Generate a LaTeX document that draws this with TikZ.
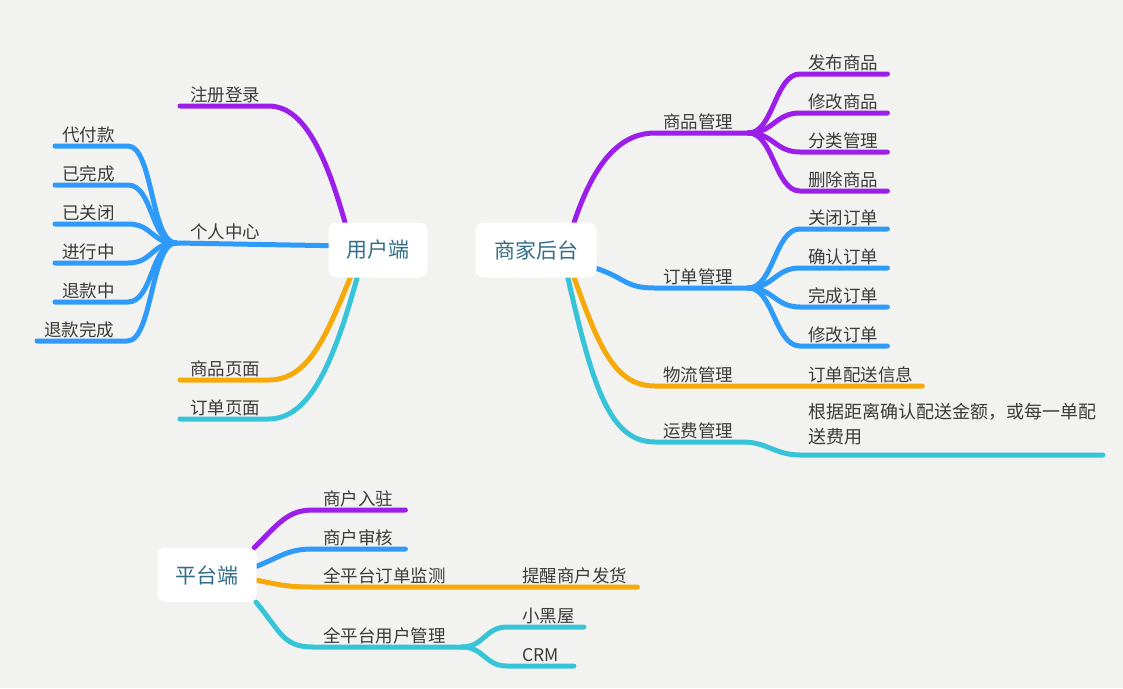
\documentclass[tikz,border=0pt]{standalone}
\usepackage{fontspec}
\setmainfont{Noto Sans CJK SC}
\definecolor{bgc}{HTML}{F2F3F1}
\definecolor{mmpurple}{HTML}{9B1FE9}
\definecolor{mmblue}{HTML}{2E9AFA}
\definecolor{mmorange}{HTML}{F6AA0A}
\definecolor{mmcyan}{HTML}{38C4D8}
\definecolor{roottext}{HTML}{336E88}
\definecolor{leaftext}{HTML}{3A3A3A}
\pgfdeclarelayer{bg}
\pgfsetlayers{bg,main}
\begin{document}
\begin{tikzpicture}[x=1pt, y=-1pt,
  root/.style={fill=white, rounded corners=8pt, minimum width=99pt, minimum height=55pt, inner sep=0pt, text=roottext, font=\fontsize{21}{21}\selectfont},
  leaf/.style={anchor=base west, inner sep=0pt, text=leaftext, font=\fontsize{17.5}{25}\selectfont},
  zi/.style={draw=mmpurple, line width=5pt, line cap=round},
  lan/.style={draw=mmblue, line width=5pt, line cap=round},
  cheng/.style={draw=mmorange, line width=5pt, line cap=round},
  qing/.style={draw=mmcyan, line width=5pt, line cap=round}]
\useasboundingbox (0,0) rectangle (1123,688);
\begin{pgfonlayer}{bg}
  \fill[bgc] (0,0) rectangle (1123,688);
\end{pgfonlayer}

% 中心主题
\node[root] (yh) at (378,250) {用户端};
\node[root, minimum width=121pt] (sj) at (536,250) {商家后台};
\node[root, minimum height=54pt] (pt) at (207,575) {平台端};

% 用户端分支
\node[leaf] (zc) at (190,101) {注册登录};
\node[leaf] (gr) at (190,238) {个人中心};
\node[leaf] (df) at (62,141) {代付款};
\node[leaf] (ywc) at (62,180) {已完成};
\node[leaf] (ygb) at (62,219) {已关闭};
\node[leaf] (jxz) at (62,258) {进行中};
\node[leaf] (tkz) at (62,297) {退款中};
\node[leaf] (tkwc) at (44,336) {退款完成};
\node[leaf] (spym) at (190,375) {商品页面};
\node[leaf] (ddym) at (190,414) {订单页面};

% 商家后台分支
\node[leaf] (spgl) at (663,128) {商品管理};
\node[leaf] (fb) at (808,69) {发布商品};
\node[leaf] (xg) at (808,108) {修改商品};
\node[leaf] (fl) at (808,147) {分类管理};
\node[leaf] (sc) at (808,186) {删除商品};
\node[leaf] (ddgl) at (663,283) {订单管理};
\node[leaf] (gb) at (808,224) {关闭订单};
\node[leaf] (qr) at (808,263) {确认订单};
\node[leaf] (wc) at (808,302) {完成订单};
\node[leaf] (xgdd) at (808,341) {修改订单};
\node[leaf] (wlgl) at (663,381) {物流管理};
\node[leaf] (psxx) at (808,381) {订单配送信息};
\node[leaf] (yfgl) at (663,437) {运费管理};
\node[leaf, text width=300pt, align=left, font=\fontsize{18}{25}\selectfont] (yfsm) at (808,418.5) {根据距离确认配送金额，或每一单配\\送费用};

% 平台端分支
\node[leaf] (rz) at (323,505) {商户入驻};
\node[leaf] (sh) at (323,544) {商户审核};
\node[leaf] (ddjc) at (323,582) {全平台订单监测};
\node[leaf] (tx) at (522,582) {提醒商户发货};
\node[leaf] (yhgl) at (323,642) {全平台用户管理};
\node[leaf] (xhw) at (522,622) {小黑屋};
\node[leaf] (crm) at (522,661) {CRM};

% 连线
\begin{pgfonlayer}{bg}
  \draw[zi] (yh.140) .. controls +(-20,-70) and +(35,0) .. ([shift={(8,5)}]zc.base east) -- ([shift={(-10,5)}]zc.base west);
  \draw[lan] (yh.175) -- ([shift={(-14,5)}]gr.base west) coordinate (grhub);
  \foreach \n in {df,ywc,ygb,jxz,tkz,tkwc}
    \draw[lan] (grhub) .. controls +(-25,0) and +(25,0) .. ([shift={(13,5)}]\n.base east) -- ([shift={(-7,5)}]\n.base west);
  \draw[cheng] (yh.225) .. controls +(-25,60) and +(40,0) .. ([shift={(8,5)}]spym.base east) -- ([shift={(-10,5)}]spym.base west);
  \draw[qing] (yh.233) .. controls +(-25,90) and +(40,0) .. ([shift={(8,5)}]ddym.base east) -- ([shift={(-10,5)}]ddym.base west);

  \draw[zi] (sj.36) .. controls +(20,-60) and +(-35,0) .. ([shift={(-8,5)}]spgl.base west) -- ([shift={(15,5)}]spgl.base east) coordinate (sphub);
  \foreach \n in {fb,xg,fl,sc}
    \draw[zi] (sphub) .. controls +(25,0) and +(-25,0) .. ([shift={(-8,5)}]\n.base west) -- ([shift={(9,5)}]\n.base east);
  \draw[lan] (sj.343) .. controls +(30,10) and +(-30,0) .. ([shift={(-8,5)}]ddgl.base west) -- ([shift={(15,5)}]ddgl.base east) coordinate (ddhub);
  \foreach \n in {gb,qr,wc,xgdd}
    \draw[lan] (ddhub) .. controls +(25,0) and +(-25,0) .. ([shift={(-8,5)}]\n.base west) -- ([shift={(9,5)}]\n.base east);
  \draw[cheng] (sj.324) .. controls +(25,70) and +(-40,0) .. ([shift={(-8,5)}]wlgl.base west) -- ([shift={(9,5)}]psxx.base east);
  \draw[qing] (sj.319) .. controls +(25,110) and +(-45,0) .. ([shift={(-8,5)}]yfgl.base west) -- ([shift={(9,5)}]yfgl.base east)
    .. controls +(25,0) and +(-25,0) .. ([shift={(-8,36.5)}]yfsm.base west) -- ([shift={(295,36.5)}]yfsm.base west);

  \draw[zi] (pt.30) .. controls +(25,-25) and +(-25,0) .. ([shift={(-10,5)}]rz.base west) -- ([shift={(12,5)}]rz.base east);
  \draw[lan] (pt.10) .. controls +(25,-10) and +(-25,0) .. ([shift={(-10,5)}]sh.base west) -- ([shift={(12,5)}]sh.base east);
  \draw[cheng] (pt.354) .. controls +(25,5) and +(-25,0) .. ([shift={(-10,5)}]ddjc.base west) -- ([shift={(10,5)}]tx.base east);
  \draw[qing] (pt.331) .. controls +(25,30) and +(-30,0) .. ([shift={(-10,5)}]yhgl.base west) -- ([shift={(16,5)}]yhgl.base east) coordinate (yhhub);
  \draw[qing] (yhhub) .. controls +(22,0) and +(-22,0) .. ([shift={(-15,5)}]xhw.base west) -- ([shift={(9,5)}]xhw.base east);
  \draw[qing] (yhhub) .. controls +(22,0) and +(-22,0) .. ([shift={(-15,5)}]crm.base west) -- ([shift={(15,5)}]crm.base east);
\end{pgfonlayer}
\end{tikzpicture}
\end{document}
